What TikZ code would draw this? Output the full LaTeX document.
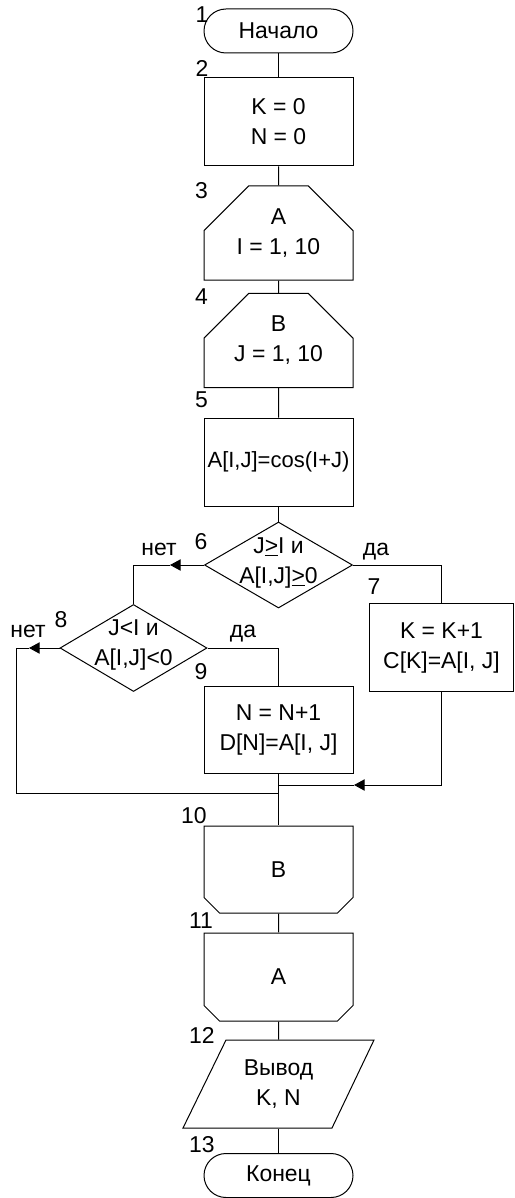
\documentclass[tikz,border=0pt]{standalone}
\usepackage{fontspec}
\setmainfont{Liberation Sans}
\usetikzlibrary{shapes.geometric,shapes.misc,arrows.meta}
\begin{document}
\begin{tikzpicture}[x=0.75pt,y=-0.75pt,
  font=\fontsize{17.2}{22.5}\selectfont,
  line width=0.75pt,
  proc/.style={draw, rectangle, minimum width=111.75pt, minimum height=66pt, inner sep=0pt, align=center},
  term/.style={draw, rectangle, rounded corners=16.5pt, minimum width=111.75pt, minimum height=33pt, inner sep=0pt},
  loopbeg/.style={draw, chamfered rectangle, chamfered rectangle corners={north west,north east},
    chamfered rectangle xsep=16.5pt, chamfered rectangle ysep=17pt,
    minimum width=111.75pt, minimum height=66pt, inner sep=0pt, align=center},
  loopend/.style={draw, chamfered rectangle, chamfered rectangle corners={south west,south east},
    chamfered rectangle xsep=16.5pt, chamfered rectangle ysep=16pt,
    minimum width=111.75pt, minimum height=66pt, inner sep=0pt, align=center},
  dec/.style={draw, diamond, minimum width=111pt, minimum height=64.5pt, inner sep=0pt},
  dectext/.style={align=center, inner sep=0pt},
  num/.style={inner sep=0pt},
  lab/.style={inner sep=0pt, anchor=base},
  arr/.style={-{Triangle[length=8pt,width=8.5pt]}}
]
\useasboundingbox (0,0) rectangle (514,1198);

% nodes
\node[term] (t1) at (278.5,31) {Начало};
\node[proc] (b2) at (278.5,122) {K = 0\\N = 0};
\node[loopbeg] (b3) at (278.5,233) {A\\I = 1, 10};
\node[loopbeg] (b4) at (278.5,340.5) {B\\J = 1, 10};
\node[proc, font=\fontsize{16.5}{22.5}\selectfont] (b5) at (278.5,462) {A[I,J]=cos(I+J)};
\node[dec] (d6) at (278.5,565) {};
\node[dectext] (d6t) at (278.5,563) {J\underline{>}I и\\A[I,J]\underline{>}0};
\node[proc, minimum width=108pt] (b7) at (441.5,647.5) {K = K+1\\C[K]=A[I, J]};
\node[dec, minimum width=110.25pt, minimum height=65.25pt] (d8) at (133.5,648) {};
\node[dectext] (d8t) at (133.5,645) {J<I и\\A[I,J]<0};
\node[proc, minimum height=65.25pt] (b9) at (278.5,729.5) {N = N+1\\D[N]=A[I, J]};
\node[loopend, minimum height=65.25pt] (b10) at (278.5,869.5) {B};
\node[loopend] (b11) at (278.5,977) {A};
\node[inner sep=0pt, minimum width=111pt, minimum height=66pt, align=center] (p12) at (278.5,1084) {Вывод\\K, N};
\draw (226,1040) -- (374,1040) -- (332,1128) -- (183,1128) -- cycle;
\node[term] (t13) at (278.5,1175.5) {Конец};

% numbers
\node[num] (n1) at (202,15) {1};
\node[num] (n2) at (202,68) {2};
\node[num] (n3) at (201.5,191) {3};
\node[num] (n4) at (201.5,297) {4};
\node[num] (n5) at (201.5,400) {5};
\node[num] (n6) at (201,542) {6};
\node[num] (n7) at (374,587) {7};
\node[num] (n8) at (61,620) {8};
\node[num] (n9) at (201,672) {9};
\node[num] (n10) at (194,816) {10};
\node[num] (n11) at (201,921) {11};
\node[num] (n12) at (202,1035) {12};
\node[num] (n13) at (202,1145) {13};

% branch labels
\node[lab] (l6n) at (159,555) {нет};
\node[lab] (l6y) at (376,555) {да};
\node[lab] (l8n) at (28,637) {нет};
\node[lab] (l8y) at (243,637) {да};

% coordinates
\coordinate (a6) at (170,565);
\coordinate (a8) at (29,648);
\coordinate (c8) at (16,793);
\coordinate (j1) at (278.5,793);
\coordinate (a7) at (354,785);
\coordinate (j2) at (278.5,785);

% connectors
\draw (t1) -- (b2);
\draw (b2) -- (b3);
\draw (b3) -- (b4);
\draw (b4) -- (b5);
\draw (b5) -- (d6);
\draw[arr] (d6.west) -- (a6);
\draw (a6) -- (d6.west -| d8.north) -- (d8.north);
\draw (d6.east) -| (b7.north);
\draw[arr] (d8.west) -- (a8);
\draw (a8) -- (a8 -| c8) -- (c8) -- (j1);
\draw (d8.east) -| (b9.north);
\draw[arr] (b7.south) |- (a7);
\draw (a7) -- (j2);
\draw (b9) -- (b10);
\draw (b10) -- (b11);
\draw (b11) -- (p12);
\draw (p12) -- (t13);
\end{tikzpicture}
\end{document}
